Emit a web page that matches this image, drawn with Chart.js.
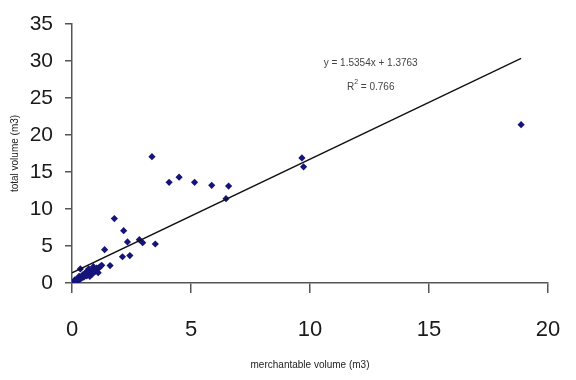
<!DOCTYPE html>
<html>
<head>
<meta charset="utf-8">
<script src="https://cdn.jsdelivr.net/npm/chart.js@4.4.0/dist/chart.umd.min.js"></script>
<style>
  html, body { margin: 0; padding: 0; background: #fff; }
  #wrap { width: 576px; height: 380px; position: relative; }
</style>
</head>
<body>
<div id="wrap"><canvas id="chart"></canvas></div>
<script>
// --- Data ---
const merchVolume = [
  3.36, 4.08, 4.5, 5.15, 5.87, 6.58, 6.47, 9.66, 9.73, 18.87,
  1.78, 2.17, 1.37, 2.33, 2.83, 2.97, 3.5, 2.12, 2.43, 1.6,
  0.05, 0.1, 0.13, 0.2, 0.25, 0.3, 0.35, 0.4, 0.45, 0.5,
  0.55, 0.62, 0.68, 0.75, 0.8, 0.85, 0.9, 0.95, 1.0, 1.04,
  1.1, 1.15, 1.2, 1.25, 0.7, 0.3, 0.15, 0.6
];
const totalVolume = [
  17.07, 13.6, 14.3, 13.6, 13.2, 13.1, 11.4, 16.9, 15.7, 21.4,
  8.7, 7.07, 4.5, 5.55, 5.85, 5.45, 5.27, 3.55, 3.7, 2.35,
  0.1, 0.3, 0.45, 0.2, 0.6, 0.9, 1.9, 0.65, 1.1, 0.8,
  1.3, 0.95, 1.4, 0.9, 1.6, 1.2, 2.2, 1.5, 1.8, 2.0,
  1.4, 2.1, 2.25, 2.4, 1.9, 0.4, 0.15, 1.5
];
const trendSlope = 1.5354;
const trendIntercept = 1.3763;
const rSquared = '0.766';
const xTicks = [0, 5, 10, 15, 20];
const yTicks = [0, 5, 10, 15, 20, 25, 30, 35];

const points = merchVolume.map((x, i) => ({ x: x, y: totalVolume[i] }));
const xMaxData = Math.max(...merchVolume);
const trendPoints = [0, xMaxData].map(x => ({ x: x, y: trendSlope * x + trendIntercept }));

// --- Equation label ---
const equationLabel = {
  id: 'equationLabel',
  afterDatasetsDraw(chart) {
    const ctx = chart.ctx;
    const xs = chart.scales.x, ys = chart.scales.y;
    const cx = xs.getPixelForValue(12.55);
    ctx.save();
    ctx.fillStyle = '#444';
    ctx.font = '10px "Liberation Sans", Arial, sans-serif';
    ctx.textBaseline = 'middle';
    ctx.textAlign = 'center';
    ctx.fillText('y = ' + trendSlope + 'x + ' + trendIntercept, cx, ys.getPixelForValue(29.7));
    // R² line
    const yR = ys.getPixelForValue(26.5);
    const rest = ' = ' + rSquared;
    const wR = ctx.measureText('R').width;
    const wRest = ctx.measureText(rest).width;
    ctx.font = '7px "Liberation Sans", Arial, sans-serif';
    const w2 = ctx.measureText('2').width;
    const start = cx - (wR + w2 + wRest) / 2;
    ctx.textAlign = 'left';
    ctx.font = '10px "Liberation Sans", Arial, sans-serif';
    ctx.fillText('R', start, yR);
    ctx.font = '7px "Liberation Sans", Arial, sans-serif';
    ctx.fillText('2', start + wR, yR - 5);
    ctx.font = '10px "Liberation Sans", Arial, sans-serif';
    ctx.fillText(rest, start + wR + w2, yR);
    ctx.restore();
  }
};

const axisColor = '#555';

new Chart(document.getElementById('chart').getContext('2d'), {
  type: 'scatter',
  data: {
    datasets: [
      {
        label: 'data',
        data: points,
        pointStyle: 'rectRot',
        radius: 3.6,
        backgroundColor: '#14147a',
        borderColor: '#14147a',
        borderWidth: 0,
        order: 2
      },
      {
        label: 'trend',
        type: 'line',
        data: trendPoints,
        borderColor: '#111',
        borderWidth: 1.3,
        pointRadius: 0,
        fill: false,
        order: 1
      }
    ]
  },
  options: {
    responsive: true,
    maintainAspectRatio: false,
    animation: false,
    layout: { padding: { left: 0, right: 28, top: 24, bottom: 0 } },
    plugins: {
      legend: { display: false },
      tooltip: { enabled: false }
    },
    scales: {
      x: {
        type: 'linear',
        min: 0,
        max: 20,
        afterBuildTicks: axis => { axis.ticks = xTicks.map(v => ({ value: v })); },
        afterFit: axis => { axis.height = 97; axis.paddingLeft = 0; axis.paddingRight = 0; },
        border: { color: axisColor, width: 1.5 },
        grid: { drawOnChartArea: false, drawTicks: true, tickLength: 10, color: axisColor, lineWidth: 1.5 },
        ticks: {
          padding: 24,
          color: '#1a1a1a',
          maxRotation: 0,
          font: { family: '"Liberation Sans", Arial, sans-serif', size: 22 }
        },
        title: {
          display: true,
          text: 'merchantable volume (m3)',
          color: '#222',
          padding: { top: 0, bottom: 9 },
          font: { family: '"Liberation Sans", Arial, sans-serif', size: 10 }
        }
      },
      y: {
        type: 'linear',
        min: 0,
        max: 35,
        afterBuildTicks: axis => { axis.ticks = yTicks.map(v => ({ value: v })); },
        afterFit: axis => { axis.width = 72; axis.paddingTop = 0; axis.paddingBottom = 0; },
        border: { color: axisColor, width: 1.5 },
        grid: { drawOnChartArea: false, drawTicks: true, tickLength: 7, color: axisColor, lineWidth: 1.5 },
        ticks: {
          padding: 12,
          color: '#1a1a1a',
          font: { family: '"Liberation Sans", Arial, sans-serif', size: 21 }
        },
        title: {
          display: true,
          text: 'total volume (m3)',
          color: '#222',
          padding: { top: 9, bottom: 0 },
          font: { family: '"Liberation Sans", Arial, sans-serif', size: 10 }
        }
      }
    }
  },
  plugins: [equationLabel]
});
</script>
</body>
</html>
